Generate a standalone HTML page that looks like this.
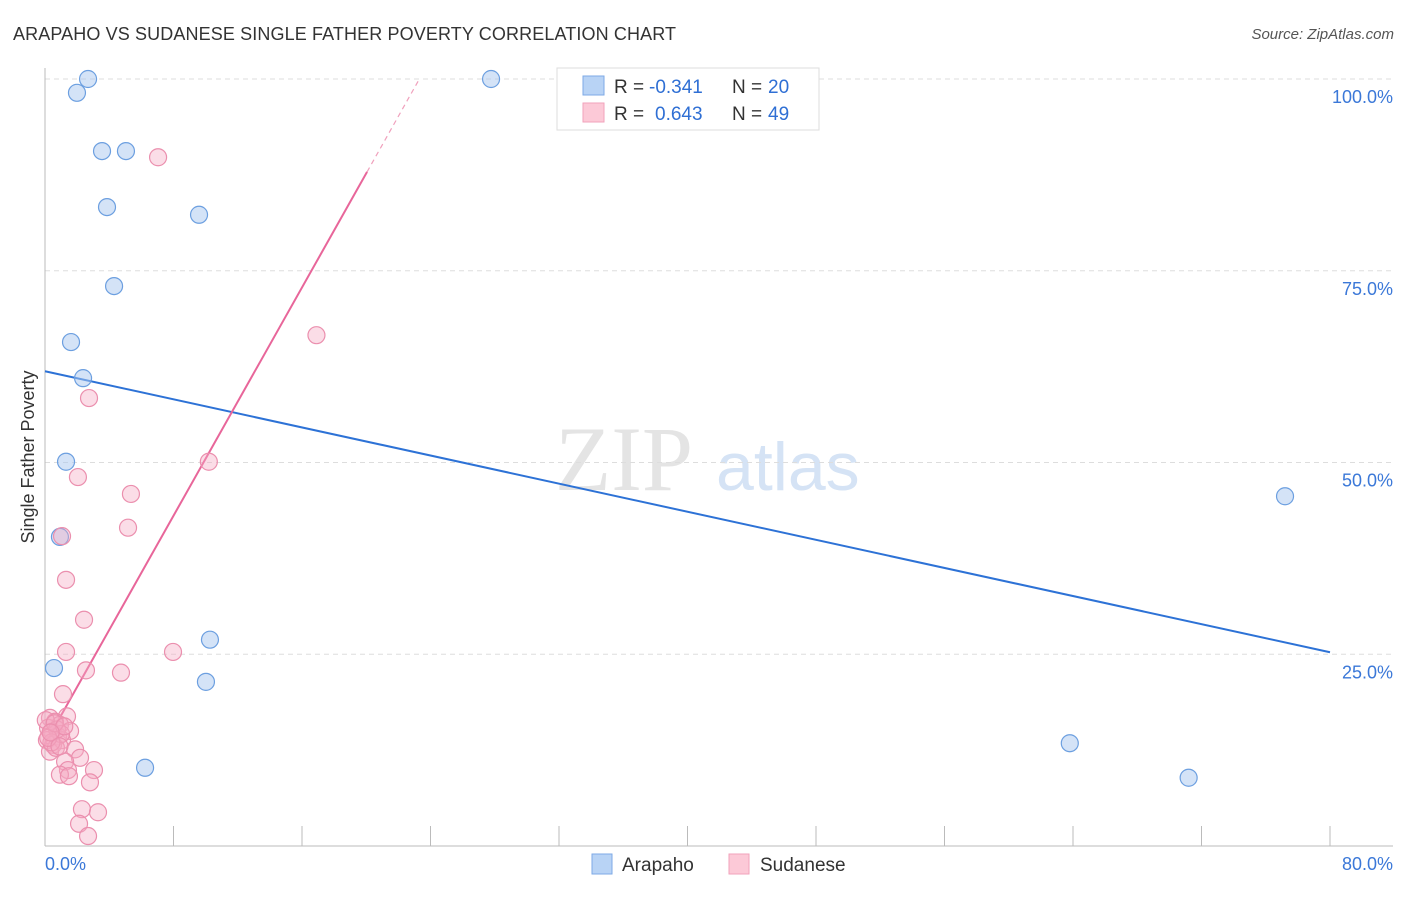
<!DOCTYPE html>
<html><head><meta charset="utf-8"><style>
body{margin:0;background:#fff;font-family:"Liberation Sans",sans-serif}
</style></head><body>
<svg id="chart" width="1406" height="892" xmlns="http://www.w3.org/2000/svg" font-family="Liberation Sans, sans-serif">
<text x="13" y="40" font-size="18" fill="#333" textLength="663">ARAPAHO VS SUDANESE SINGLE FATHER POVERTY CORRELATION CHART</text>
<text x="1394" y="39" font-size="15" fill="#555" font-style="italic" text-anchor="end">Source: ZipAtlas.com</text>
<text x="555" y="490" font-size="92" fill="#e4e4e4" font-family="Liberation Serif, serif">ZIP</text>
<text x="716" y="490" font-size="68" fill="#d5e3f5">atlas</text>
<text transform="translate(34,457) rotate(-90)" font-size="18" fill="#333" text-anchor="middle">Single Father Poverty</text>
<g id="grid"></g><g id="axes"></g><g id="lines"></g><g id="pts"></g>
<g>
<rect x="557" y="68" width="262" height="62" fill="#fff" stroke="#ddd"/>
<rect x="583" y="76" width="21" height="19" fill="#b8d3f5" stroke="#7eaae6"/>
<rect x="583" y="103" width="21" height="19" fill="#fcc9d7" stroke="#f2a2bb"/>
<text x="614" y="93" font-size="19" fill="#333">R =</text>
<text x="649" y="93" font-size="19" fill="#2f6fd4">-0.341</text>
<text x="732" y="93" font-size="19" fill="#333">N =</text>
<text x="768" y="93" font-size="19" fill="#2f6fd4">20</text>
<text x="614" y="120" font-size="19" fill="#333">R =</text>
<text x="655" y="120" font-size="19" fill="#2f6fd4">0.643</text>
<text x="732" y="120" font-size="19" fill="#333">N =</text>
<text x="768" y="120" font-size="19" fill="#2f6fd4">49</text>
</g>
<g>
<rect x="592" y="854" width="20" height="20" fill="#b8d3f5" stroke="#7eaae6"/>
<text x="622" y="871" font-size="19" fill="#333">Arapaho</text>
<rect x="729" y="854" width="20" height="20" fill="#fcc9d7" stroke="#f2a2bb"/>
<text x="760" y="871" font-size="19" fill="#333">Sudanese</text>
</g>
</svg>
<script>
const yTicks=[25,50,75,100];
const yTickLabels=["25.0%","50.0%","75.0%","100.0%"];
const xTicks=[0,8,16,24,32,40,48,56,64,72,80];
const arapahoX=[2.68,1.99,27.77,3.55,5.04,3.86,9.59,4.30,1.62,2.37,1.31,0.93,77.2,10.27,0.56,10.02,6.23,63.8,71.2];
const arapahoY=[100,98.2,100,90.6,90.6,83.3,82.3,73.0,65.7,61.0,50.1,40.3,45.6,26.9,23.2,21.4,10.2,13.4,8.9];
const sudaneseX=[7.04,16.9,2.74,10.2,2.05,5.35,5.17,1.06,1.31,2.43,7.97,1.31,2.55,4.73,1.12,1.37,0.31,0.62,0.93,0.19,0.44,1.56,0.81,0.12,1.06,0.5,1.87,0.31,2.18,1.25,3.05,1.43,0.93,1.49,2.8,2.3,3.3,2.12,2.68,0.68,0.05,0.75,1.0,0.4,0.2,0.6,1.2,0.35,0.9];
const sudaneseY=[89.8,66.6,58.4,50.1,48.1,45.9,41.5,40.4,34.7,29.5,25.3,25.3,22.9,22.6,19.8,16.9,16.7,16.2,15.8,15.4,14.9,15.0,14.3,13.8,13.8,13.2,12.6,12.3,11.5,11.0,9.9,9.9,9.3,9.1,8.3,4.8,4.4,2.9,1.3,12.8,16.4,15.2,14.6,13.5,14.1,16.0,15.6,14.8,13.0];
const arapahoFit=[61.9,-0.458];
const sudaneseFit=[13.3,3.72];
const X=v=>45+v/80*1285, Y=v=>846-v/100*767;
const NS="http://www.w3.org/2000/svg";
function mk(t,a,p){const e=document.createElementNS(NS,t);for(const k in a)e.setAttribute(k,a[k]);p.appendChild(e);return e;}
const grid=document.getElementById('grid'),axes=document.getElementById('axes'),lines=document.getElementById('lines'),pts=document.getElementById('pts');
yTicks.forEach((v,i)=>{
 const l=mk('line',{x1:45,x2:1393,y1:Y(v),y2:Y(v),stroke:'#ddd','stroke-dasharray':'5,4'},grid);
 
 
 const t=mk('text',{x:1393,y:Y(v)+24,'font-size':18,fill:'#3b78d8','text-anchor':'end'},grid);
 t.textContent=yTickLabels[i];
 
 
});
const ya=mk('line',{x1:45,x2:45,y1:68,y2:846,stroke:'#bbb'},axes);


const xa=mk('line',{x1:45,x2:1393,y1:846,y2:846,stroke:'#bbb'},axes);


xTicks.forEach(v=>{const t=mk('line',{x1:X(v),x2:X(v),y1:826,y2:846,stroke:'#bbb'},axes);
 
 });
const xl0=mk('text',{x:45,y:870,'font-size':18,fill:'#3b78d8'},axes);xl0.textContent='0.0%';


const xl1=mk('text',{x:1393,y:870,'font-size':18,fill:'#3b78d8','text-anchor':'end'},axes);xl1.textContent='80.0%';


arapahoX.forEach((x,i)=>{const c=mk('circle',{cx:X(x),cy:Y(arapahoY[i]),r:8.5,fill:'rgba(170,200,240,0.5)',stroke:'#6c9fe0','stroke-width':1.2},pts);
 
 });
sudaneseX.forEach((x,i)=>{const c=mk('circle',{cx:X(x),cy:Y(sudaneseY[i]),r:8.5,fill:'rgba(245,170,195,0.4)',stroke:'#eb8fae','stroke-width':1.2},pts);
 
 });
const bl=mk('line',{x1:X(0),y1:Y(arapahoFit[0]),x2:X(80),y2:Y(arapahoFit[0]+arapahoFit[1]*80),stroke:'#2d72d6','stroke-width':2},lines);


const xs=20.05,xe=(100-sudaneseFit[0])/sudaneseFit[1];
const pl=mk('line',{x1:X(0),y1:Y(sudaneseFit[0]),x2:X(xs),y2:Y(sudaneseFit[0]+sudaneseFit[1]*xs),stroke:'#e8669a','stroke-width':2},lines);


const pd=mk('line',{x1:X(xs),y1:Y(sudaneseFit[0]+sudaneseFit[1]*xs),x2:X(xe),y2:Y(100),stroke:'#f0a0bc','stroke-width':1.2,'stroke-dasharray':'5,4'},lines);


</script>
</body></html>
